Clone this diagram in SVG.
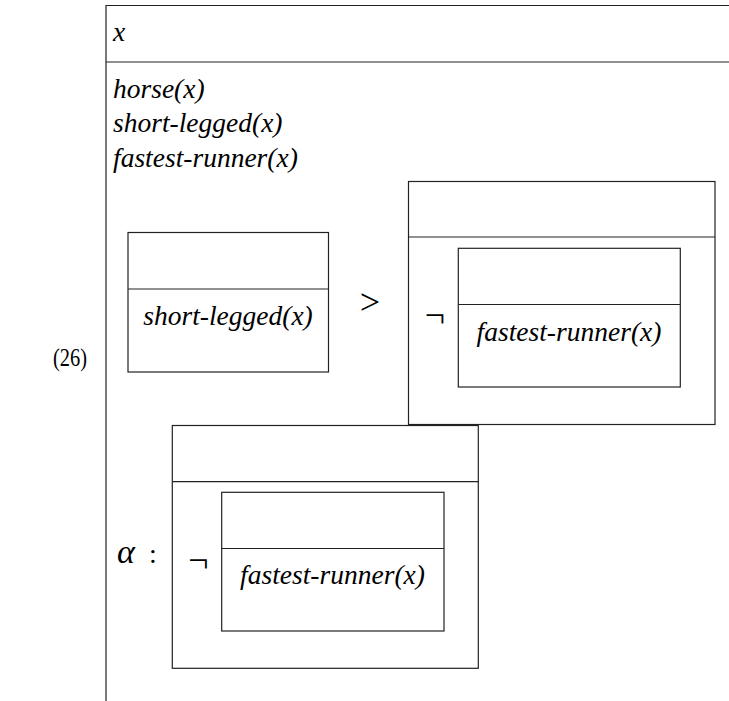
<svg xmlns="http://www.w3.org/2000/svg" width="729" height="701" viewBox="0 0 729 701">
<style>
.ln{stroke:#222;stroke-width:1.2;fill:none}
.bx{stroke:#222;stroke-width:1.2;fill:none}
.t{font-family:"Liberation Serif","DejaVu Serif",serif;font-style:italic;font-size:27.5px;fill:#000}
.m{font-family:"Liberation Serif","DejaVu Serif",serif;font-size:28px;fill:#000}
.neg{font-size:36px}
.gt{font-size:36px}
.lbl{font-family:"Liberation Serif","DejaVu Serif",serif;font-size:26px;fill:#000}
</style>
<rect width="729" height="701" fill="#fff"/>
<g id="label"><text class="lbl" x="53" y="366" textLength="34" lengthAdjust="spacingAndGlyphs">(26)</text></g>
<g id="outer">
<path class="ln" d="M106,701 V5.5 H729 M106,62 H729"/>
<text class="t" x="113" y="41">x</text>
<text class="t" x="113" y="98">horse(x)</text>
<text class="t" x="113" y="132">short-legged(x)</text>
<text class="t" x="113" y="167">fastest-runner(x)</text>
</g>
<g id="box1">
<rect class="bx" x="128" y="232.5" width="200.5" height="139.5"/>
<line class="ln" x1="128" y1="289" x2="328.5" y2="289"/>
<text class="t" x="228" y="325" text-anchor="middle">short-legged(x)</text>
</g>
<g id="gt"><text class="m gt" x="370" y="314" text-anchor="middle">&gt;</text></g>
<g id="box2">
<rect class="bx" x="408.5" y="181.5" width="306.5" height="243"/>
<line class="ln" x1="408.5" y1="237" x2="715" y2="237"/>
<text class="m neg" x="435" y="327" text-anchor="middle">¬</text>
<g id="box2-inner">
<rect class="bx" x="458.3" y="248.3" width="222" height="138.7"/>
<line class="ln" x1="458.3" y1="304.5" x2="680.3" y2="304.5"/>
<text class="t" x="569" y="341" text-anchor="middle">fastest-runner(x)</text>
</g>
</g>
<g id="alpha"><text class="m" x="117" y="563"><tspan style="font-style:italic;font-size:34px">α</tspan><tspan x="149">:</tspan></text></g>
<g id="box3">
<rect class="bx" x="172.3" y="425.5" width="306" height="242.8"/>
<line class="ln" x1="172.3" y1="481.7" x2="478.3" y2="481.7"/>
<text class="m neg" x="198.5" y="572" text-anchor="middle">¬</text>
<g id="box3-inner">
<rect class="bx" x="221.7" y="492.3" width="222.3" height="138.7"/>
<line class="ln" x1="221.7" y1="548.5" x2="444" y2="548.5"/>
<text class="t" x="332.5" y="584" text-anchor="middle">fastest-runner(x)</text>
</g>
</g>
</svg>
